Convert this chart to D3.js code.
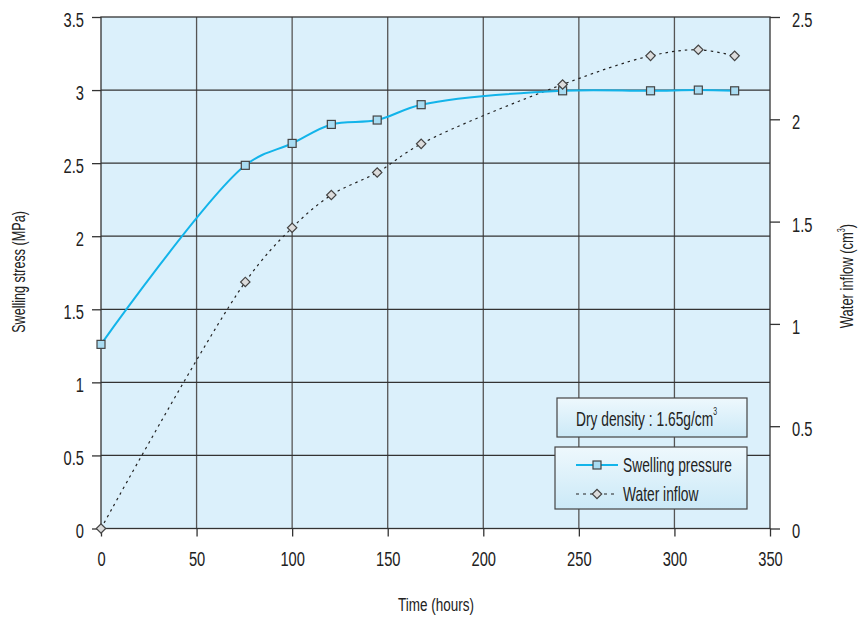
<!DOCTYPE html>
<html><head><meta charset="utf-8">
<script src="https://cdn.jsdelivr.net/npm/d3@7"></script>
<style>
body{margin:0;background:#fff;}
text{font-family:"Liberation Sans",Arimo,sans-serif;fill:#222;}
</style></head>
<body><svg id="c" width="864" height="618"></svg>
<script>
const time = [0, 75.5, 100, 120.5, 144.5, 167.5, 241.5, 287.5, 312.5, 331.5];
const swellingPressure = [1.26, 2.485, 2.635, 2.765, 2.795, 2.9, 2.995, 2.995, 3.0, 2.995];
const waterInflow = [0, 1.205, 1.47, 1.63, 1.74, 1.88, 2.17, 2.31, 2.34, 2.31];
const xTicks = [0, 50, 100, 150, 200, 250, 300, 350];
const yLeftTicks = [0, 0.5, 1, 1.5, 2, 2.5, 3, 3.5];
const yRightTicks = [0, 0.5, 1, 1.5, 2, 2.5];

const svg = d3.select("#c");
const L = 101, R = 770, T = 17, B = 528.5;
const x = d3.scaleLinear().domain([0, 350]).range([L, R]);
const yL = d3.scaleLinear().domain([0, 3.5]).range([B, T]);
const yR = d3.scaleLinear().domain([0, 2.5]).range([B, T]);

function cond(sel, f){
  sel.each(function(){
    const t = d3.select(this);
    const xx = +(t.attr("x")||0);
    t.attr("x", xx/f);
    const tr = t.attr("transform")||"";
    t.attr("transform", tr + ` scale(${f},1)`);
  });
}

const defs = svg.append("defs");
const g1 = defs.append("linearGradient").attr("id","lg").attr("x1",0).attr("y1",0).attr("x2",0).attr("y2",1);
g1.append("stop").attr("offset","0%").attr("stop-color","#eef8fd");
g1.append("stop").attr("offset","100%").attr("stop-color","#cbe9f7");

svg.append("rect").attr("x",L).attr("y",T).attr("width",R-L).attr("height",B-T).attr("fill","#dbf0fb");

// grid
svg.append("g").selectAll("line").data(xTicks.slice(1,-1)).join("line")
  .attr("x1",d=>x(d)).attr("x2",d=>x(d)).attr("y1",T).attr("y2",B)
  .attr("stroke","#555").attr("stroke-width",1.3);
svg.append("g").selectAll("line").data(yLeftTicks.slice(1,-1)).join("line")
  .attr("x1",L).attr("x2",R).attr("y1",d=>yL(d)).attr("y2",d=>yL(d))
  .attr("stroke","#333").attr("stroke-width",1.3);

svg.append("rect").attr("x",L).attr("y",T).attr("width",R-L).attr("height",B-T).attr("fill","none").attr("stroke","#333").attr("stroke-width",1.3);

// axes
const ax = svg.append("g").attr("transform",`translate(0,${B})`)
  .call(d3.axisBottom(x).tickValues(xTicks).tickSize(8).tickPadding(15).tickFormat(d3.format("d")));
const ay = svg.append("g").attr("transform",`translate(${L},0)`)
  .call(d3.axisLeft(yL).tickValues(yLeftTicks).tickSize(9).tickPadding(8).tickFormat(d=>String(d)));
const ayr = svg.append("g").attr("transform",`translate(${R},0)`)
  .call(d3.axisRight(yR).tickValues(yRightTicks).tickSize(10).tickPadding(12).tickFormat(d=>String(d)));
[ax,ay,ayr].forEach(a=>{
  a.select(".domain").remove();
  a.attr("font-family",null).attr("font-size",null);
  a.selectAll(".tick line").attr("stroke","#333").attr("stroke-width",1.3);
  a.selectAll(".tick text").attr("font-size",21).attr("fill","#222");
  cond(a.selectAll(".tick text"), 0.7);
});
ay.selectAll(".tick text").attr("dy","0.45em");
ayr.selectAll(".tick text").attr("dy","0.45em");

// lines
const lineSP = d3.line().x((d,i)=>x(time[i])).y(d=>yL(d)).curve(d3.curveCatmullRom.alpha(0.5));
const lineWI = d3.line().x((d,i)=>x(time[i])).y(d=>yR(d)).curve(d3.curveCatmullRom.alpha(0.5));
svg.append("path").datum(waterInflow).attr("d",lineWI).attr("fill","none").attr("stroke","#222").attr("stroke-width",1.2).attr("stroke-dasharray","2.5,4");
svg.append("path").datum(swellingPressure).attr("d",lineSP).attr("fill","none").attr("stroke","#12b4ea").attr("stroke-width",2);

// markers
svg.append("g").selectAll("rect").data(swellingPressure).join("rect")
  .attr("x",(d,i)=>x(time[i])-4).attr("y",d=>yL(d)-4).attr("width",8).attr("height",8)
  .attr("fill","#a9dcf2").attr("stroke","#444").attr("stroke-width",1.2);
svg.append("g").selectAll("path").data(waterInflow).join("path")
  .attr("transform",(d,i)=>`translate(${x(time[i])},${yR(d)}) rotate(45)`)
  .attr("d",d3.symbol().type(d3.symbolSquare).size(44))
  .attr("fill","#dcdcdc").attr("stroke","#444").attr("stroke-width",1.2);

// axis titles
const lt = svg.append("text").attr("transform","translate(25,272) rotate(-90)").attr("text-anchor","middle").attr("font-size",18).text("Swelling stress (MPa)");
cond(lt, 0.7);
const rt = svg.append("text").attr("transform","translate(853,276) rotate(-90)").attr("text-anchor","middle").attr("font-size",18);
rt.append("tspan").text("Water inflow (cm");
rt.append("tspan").attr("font-size",10).attr("dy",-8).text("3");
rt.append("tspan").attr("dy",8).text(")");
cond(rt, 0.72);
const bt = svg.append("text").attr("x",436).attr("y",611).attr("text-anchor","middle").attr("font-size",19).text("Time (hours)");
cond(bt, 0.71);

// density box
svg.append("rect").attr("x",557).attr("y",398).attr("width",190).attr("height",39).attr("fill","url(#lg)").attr("stroke","#444").attr("stroke-width",1.2);
const dt = svg.append("text").attr("x",576).attr("y",426).attr("font-size",20);
dt.append("tspan").text("Dry density : 1.65g/cm");
dt.append("tspan").attr("font-size",10).attr("dy",-11).text("3");
cond(dt, 0.69);

// legend
svg.append("rect").attr("x",555).attr("y",447).attr("width",192).attr("height",62).attr("fill","url(#lg)").attr("stroke","#444").attr("stroke-width",1.2);
const lg = svg.append("g");
lg.append("line").attr("x1",576).attr("x2",618).attr("y1",465).attr("y2",465).attr("stroke","#12b4ea").attr("stroke-width",2);
lg.append("rect").attr("x",593).attr("y",461).attr("width",8).attr("height",8).attr("fill","#a9dcf2").attr("stroke","#444").attr("stroke-width",1.2);
const l1 = lg.append("text").attr("x",623).attr("y",472).attr("font-size",20).text("Swelling pressure");
lg.append("line").attr("x1",576).attr("x2",618).attr("y1",494).attr("y2",494).attr("stroke","#222").attr("stroke-width",1.2).attr("stroke-dasharray","3,4");
lg.append("path").attr("transform","translate(597,494) rotate(45)").attr("d",d3.symbol().type(d3.symbolSquare).size(44)).attr("fill","#dcdcdc").attr("stroke","#444").attr("stroke-width",1.2);
const l2 = lg.append("text").attr("x",623).attr("y",501).attr("font-size",20).text("Water inflow");
cond(l1, 0.69); cond(l2, 0.69);
</script></body></html>
